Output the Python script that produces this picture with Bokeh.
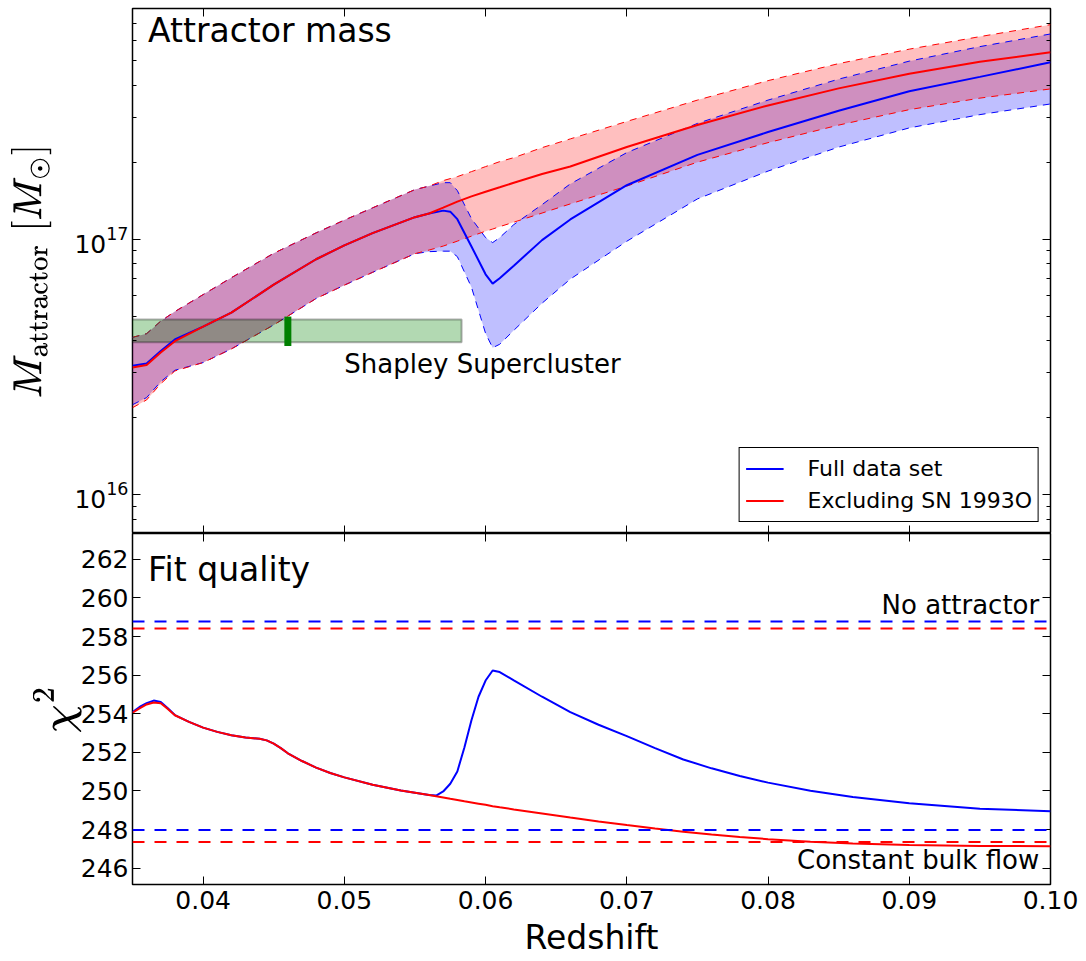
from bokeh.embed import file_html
from bokeh.layouts import column
from bokeh.models import (FixedTicker, Label, LinearAxis, LogAxis,
                          NumeralTickFormatter, Range1d, Span, TeX)
from bokeh.plotting import figure
from bokeh.resources import INLINE

FONT = "DejaVu Sans"
UNIT = 1e16  # mass arrays below are in units of 1e16 solar masses

# ---------------- attractor mass vs redshift ----------------
z_mass = [0.035, 0.036, 0.037, 0.038, 0.040, 0.042, 0.045, 0.048, 0.050, 0.052,
          0.055, 0.056, 0.057, 0.0575, 0.058, 0.059, 0.060, 0.0605, 0.061, 0.062,
          0.064, 0.066, 0.070, 0.075, 0.080, 0.085, 0.090, 0.095, 0.100]

mass_full = [3.20, 3.26, 3.65, 4.05, 4.55, 5.16, 6.64, 8.35, 9.46, 10.56,
             12.20, 12.60, 12.94, 12.82, 11.98, 9.37, 7.29, 6.70, 7.04, 7.88,
             9.92, 11.95, 16.27, 21.38, 26.28, 31.84, 37.93, 43.20, 49.25]
mass_full_lo = [2.25, 2.40, 2.77, 3.07, 3.29, 3.72, 4.62, 5.86, 6.61, 7.42,
                8.78, 8.94, 8.98, 8.98, 8.55, 6.49, 4.28, 3.76, 3.88, 4.40,
                5.62, 6.98, 9.82, 14.38, 18.48, 22.94, 27.27, 30.74, 33.84]
mass_full_hi = [4.13, 4.27, 4.78, 5.21, 6.07, 7.07, 8.81, 10.59, 11.88, 13.27,
                15.64, 16.14, 16.65, 16.65, 15.50, 12.04, 10.15, 9.70, 10.15, 11.41,
                13.66, 16.46, 21.83, 28.40, 35.04, 42.33, 49.78, 56.74, 63.60]

mass_excl = [3.15, 3.22, 3.60, 3.99, 4.55, 5.16, 6.64, 8.35, 9.46, 10.56,
             12.20, 12.61, 13.29, 13.66, 14.04, 14.72, 15.34, 15.66, 15.97, 16.64,
             18.00, 19.26, 22.96, 28.01, 33.40, 38.94, 44.40, 49.47, 53.89]
mass_excl_lo = [2.19, 2.35, 2.72, 3.05, 3.29, 3.72, 4.62, 5.86, 6.61, 7.42,
                8.78, 9.07, 9.40, 9.61, 9.83, 10.28, 10.75, 10.96, 11.20, 11.66,
                12.66, 13.75, 16.14, 20.03, 23.88, 27.97, 32.15, 35.67, 38.75]
mass_excl_hi = [4.13, 4.27, 4.78, 5.21, 6.07, 7.07, 8.81, 10.59, 11.88, 13.27,
                15.64, 16.14, 16.96, 17.27, 17.58, 18.39, 19.24, 19.68, 20.12, 20.86,
                22.83, 24.70, 28.91, 35.04, 41.76, 48.68, 55.46, 62.09, 69.17]

# Shapley Supercluster: redshift extent, mass interval and central redshift
shapley_z_span = [0.034, 0.0583]
shapley_mass_span = [3.95, 4.85]
shapley_z = 0.046
shapley_mark_span = [3.82, 4.98]

# ---------------- chi^2 vs redshift ----------------
z_chi = [0.035, 0.0355, 0.036, 0.0365, 0.037, 0.0375, 0.038, 0.039, 0.040, 0.041,
         0.042, 0.043, 0.044, 0.0445, 0.045, 0.0455, 0.046, 0.047, 0.048, 0.049,
         0.050, 0.052, 0.054, 0.056, 0.0565, 0.057, 0.0575, 0.058, 0.0585, 0.059,
         0.0595, 0.060, 0.0605, 0.061, 0.062, 0.064, 0.066, 0.068, 0.070, 0.072,
         0.074, 0.076, 0.078, 0.080, 0.083, 0.086, 0.090, 0.095, 0.100]
chi2_full = [254.08, 254.35, 254.55, 254.68, 254.61, 254.28, 253.93, 253.58, 253.28, 253.06,
             252.88, 252.77, 252.70, 252.62, 252.45, 252.22, 251.95, 251.55, 251.21, 250.93,
             250.70, 250.32, 250.02, 249.79, 249.76, 249.97, 250.37, 251.01, 252.25, 253.66,
             254.88, 255.72, 256.24, 256.16, 255.73, 254.88, 254.08, 253.43, 252.84, 252.22,
             251.63, 251.17, 250.77, 250.43, 250.01, 249.68, 249.36, 249.08, 248.95]
chi2_excl = [254.05, 254.28, 254.48, 254.58, 254.54, 254.25, 253.92, 253.58, 253.28, 253.06,
             252.88, 252.77, 252.70, 252.62, 252.45, 252.22, 251.95, 251.55, 251.21, 250.93,
             250.70, 250.32, 250.02, 249.79, 249.72, 249.66, 249.59, 249.53, 249.46, 249.40,
             249.34, 249.28, 249.21, 249.15, 249.04, 248.83, 248.62, 248.42, 248.23, 248.05,
             247.88, 247.74, 247.61, 247.50, 247.37, 247.27, 247.20, 247.15, 247.13]

chi2_none_full, chi2_none_excl = 258.78, 258.42
chi2_bulk_full, chi2_bulk_excl = 247.98, 247.35

# ---------------- ticks ----------------
z_ticks = [0.04, 0.05, 0.06, 0.07, 0.08, 0.09, 0.10]
mass_ticks = [1e16, 1e17]
mass_minor_ticks = [8e15, 9e15,
                    2e16, 3e16, 4e16, 5e16, 6e16, 7e16, 8e16, 9e16,
                    2e17, 3e17, 4e17, 5e17, 6e17, 7e17, 8e17]
chi_ticks = [246, 248, 250, 252, 254, 256, 258, 260, 262]


def msun(vals):
    return [v * UNIT for v in vals]


def style_axis(ax, show_labels):
    ax.axis_line_color = None
    ax.major_tick_in = 8
    ax.major_tick_out = 0
    ax.minor_tick_in = 4
    ax.minor_tick_out = 0
    ax.major_tick_line_color = "black"
    ax.minor_tick_line_color = "black"
    ax.major_tick_line_width = 1
    ax.minor_tick_line_width = 1
    ax.major_label_text_font = FONT
    ax.major_label_text_color = "black"
    if show_labels:
        ax.major_label_text_font_size = "25px"
    else:
        # tick marks only on the mirrored sides
        ax.major_label_text_font_size = "1px"
        ax.major_label_text_alpha = 0
        ax.major_label_standoff = 0


# ================= upper panel =================
top = figure(width=1086, height=533, y_axis_type="log",
             x_range=Range1d(0.035, 0.10), y_range=Range1d(7.05e15, 8.0e17),
             x_axis_location=None, y_axis_location="left",
             output_backend="svg", toolbar_location=None,
             min_border_left=132, min_border_right=36,
             min_border_top=8, min_border_bottom=0,
             outline_line_color="black", outline_line_width=1.5,
             background_fill_color="white", border_fill_color="white")
top.grid.visible = False

ly = top.left[0]
ly.ticker = FixedTicker(ticks=mass_ticks, minor_ticks=mass_minor_ticks)
style_axis(ly, True)
ly.major_label_standoff = 4
ly.axis_label = TeX(text=r"M_{\mathrm{attractor}}\;[M_\odot]")
ly.axis_label_text_font_size = "34px"
ly.axis_label_text_color = "black"
ly.axis_label_standoff = 20

ry = LogAxis(ticker=FixedTicker(ticks=mass_ticks, minor_ticks=mass_minor_ticks))
style_axis(ry, False)
top.add_layout(ry, "right")
for loc in ("below", "above"):
    ax = LinearAxis(ticker=FixedTicker(ticks=z_ticks))
    style_axis(ax, False)
    top.add_layout(ax, loc)

# uncertainty bands (blue first, red on top of it)
top.varea(x=z_mass, y1=msun(mass_full_lo), y2=msun(mass_full_hi),
          fill_color="blue", fill_alpha=0.25)
top.varea(x=z_mass, y1=msun(mass_excl_lo), y2=msun(mass_excl_hi),
          fill_color="red", fill_alpha=0.25)
for vals, col in ((mass_full_lo, "blue"), (mass_full_hi, "blue"),
                  (mass_excl_lo, "red"), (mass_excl_hi, "red")):
    top.line(z_mass, msun(vals), line_color=col, line_width=1, line_dash="7 6")

# Shapley Supercluster
top.quad(left=[shapley_z_span[0]], right=[shapley_z_span[1]],
         bottom=[shapley_mass_span[0] * UNIT], top=[shapley_mass_span[1] * UNIT],
         fill_color="green", fill_alpha=0.3,
         line_color="black", line_alpha=0.3, line_width=2)
top.segment(x0=[shapley_z], x1=[shapley_z],
            y0=[shapley_mark_span[0] * UNIT], y1=[shapley_mark_span[1] * UNIT],
            line_color="green", line_width=7, line_cap="butt")

top.line(z_mass, msun(mass_full), line_color="blue", line_width=2,
         legend_label="Full data set")
top.line(z_mass, msun(mass_excl), line_color="red", line_width=2,
         legend_label="Excluding SN 1993O")

leg = top.legend[0]
leg.location = "bottom_right"
leg.margin = 11
leg.padding = 6
leg.spacing = 3
leg.label_height = 29
leg.glyph_height = 29
leg.glyph_width = 38
leg.label_standoff = 24
leg.label_text_font = FONT
leg.label_text_font_size = "22px"
leg.label_text_color = "black"
leg.border_line_color = "black"
leg.border_line_width = 1.5
leg.border_line_alpha = 1
leg.background_fill_color = "white"
leg.background_fill_alpha = 1

top.add_layout(Label(x=0.0361, y=6.55e17, text="Attractor mass",
                     text_font=FONT, text_font_size="33px", text_color="black",
                     text_baseline="alphabetic", text_align="left"))
top.add_layout(Label(x=0.0500, y=3.26e16, text="Shapley Supercluster",
                     text_font=FONT, text_font_size="26px", text_color="black",
                     text_baseline="alphabetic", text_align="left"))

# ================= lower panel =================
bot = figure(width=1086, height=428,
             x_range=top.x_range, y_range=Range1d(245.15, 263.34),
             output_backend="svg", toolbar_location=None,
             min_border_left=132, min_border_right=36,
             min_border_top=0, min_border_bottom=77,
             outline_line_color="black", outline_line_width=1.5,
             background_fill_color="white", border_fill_color="white")
bot.grid.visible = False

bx = bot.below[0]
bx.ticker = FixedTicker(ticks=z_ticks)
bx.formatter = NumeralTickFormatter(format="0.00")
style_axis(bx, True)
bx.major_label_standoff = 6
bx.axis_label = "Redshift"
bx.axis_label_text_font = FONT
bx.axis_label_text_font_size = "33px"
bx.axis_label_text_font_style = "normal"
bx.axis_label_text_color = "black"
bx.axis_label_standoff = 6

by = bot.left[0]
by.ticker = FixedTicker(ticks=chi_ticks)
style_axis(by, True)
by.major_label_standoff = 4
by.axis_label = TeX(text=r"\chi^2")
by.axis_label_text_font_size = "36px"
by.axis_label_text_color = "black"
by.axis_label_standoff = -4

bot_ry = LinearAxis(ticker=FixedTicker(ticks=chi_ticks))
style_axis(bot_ry, False)
bot.add_layout(bot_ry, "right")
bot_ax = LinearAxis(ticker=FixedTicker(ticks=z_ticks))
style_axis(bot_ax, False)
bot.add_layout(bot_ax, "above")

for loc, col in ((chi2_none_full, "blue"), (chi2_none_excl, "red"),
                 (chi2_bulk_full, "blue"), (chi2_bulk_excl, "red")):
    bot.add_layout(Span(location=loc, dimension="width", line_color=col,
                        line_width=2, line_dash="12 10"))

bot.line(z_chi, chi2_full, line_color="blue", line_width=2)
bot.line(z_chi, chi2_excl, line_color="red", line_width=2)

bot.add_layout(Label(x=0.0361, y=261.50, text="Fit quality",
                     text_font=FONT, text_font_size="33px", text_color="black",
                     text_baseline="alphabetic", text_align="left"))
bot.add_layout(Label(x=0.0992, y=259.66, text="No attractor",
                     text_font=FONT, text_font_size="26px", text_color="black",
                     text_baseline="alphabetic", text_align="right"))
bot.add_layout(Label(x=0.0992, y=246.43, text="Constant bulk flow",
                     text_font=FONT, text_font_size="26px", text_color="black",
                     text_baseline="alphabetic", text_align="right"))

layout = column(top, bot, spacing=0)
open("out.html", "w").write(file_html(layout, INLINE))
